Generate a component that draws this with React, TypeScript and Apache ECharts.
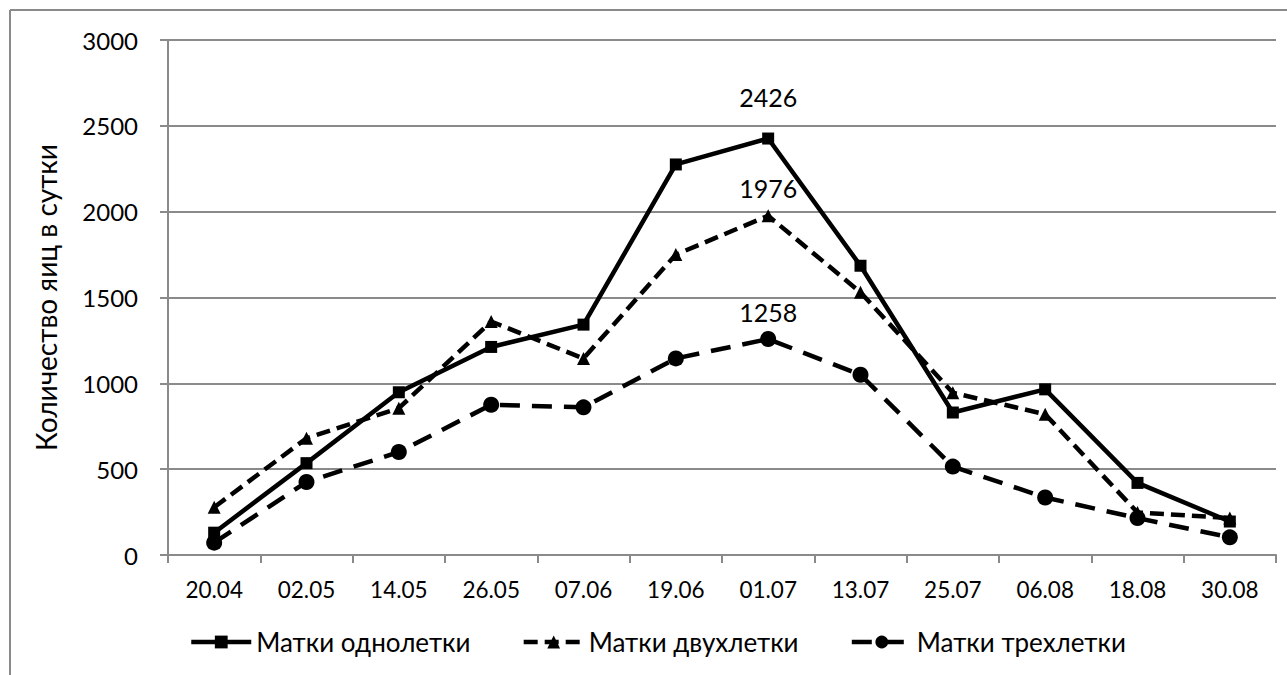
import React, { useEffect, useRef } from "react";
import * as echarts from "echarts";

const categories = ["20.04", "02.05", "14.05", "26.05", "07.06", "19.06", "01.07", "13.07", "25.07", "06.08", "18.08", "30.08"];
const oneYear = [130, 535, 948, 1212, 1342, 2275, 2426, 1685, 830, 965, 420, 195];
const twoYear = [278, 680, 855, 1360, 1145, 1750, 1976, 1530, 945, 820, 248, 215];
const threeYear = [72, 425, 600, 875, 860, 1145, 1258, 1050, 515, 335, 215, 103];
const seriesNames = ["Матки однолетки", "Матки двухлетки", "Матки трехлетки"];
const yTicks = { min: 0, max: 3000, interval: 500 };
const labelIndex = 6;
const yAxisTitle = "Количество яиц в сутки";

const FONT = "Lato, 'Open Sans', sans-serif";

function withLabel(values: number[], distance: number) {
  return values.map((v, i) =>
    i === labelIndex
      ? { value: v, label: { show: true, position: "top", distance, fontSize: 25, color: "#000", fontFamily: FONT } }
      : v
  );
}

export default function App() {
  const ref = useRef<HTMLDivElement>(null);
  useEffect(() => {
    if (!ref.current) return;
    const chart = echarts.init(ref.current, undefined, { renderer: "svg" });
    chart.setOption({
      animation: false,
      backgroundColor: "#fff",
      textStyle: { fontFamily: FONT },
      graphic: [
        { type: "line", shape: { x1: 10, y1: 10, x2: 1287, y2: 10 }, style: { stroke: "#8a8a8a", lineWidth: 2 } },
        { type: "line", shape: { x1: 10, y1: 10, x2: 10, y2: 675 }, style: { stroke: "#8a8a8a", lineWidth: 2 } },
      ],
      grid: { left: 168, right: 11, top: 40, bottom: 120, containLabel: false },
      legend: {
        left: 184,
        top: 624,
        itemWidth: 60,
        itemHeight: 16,
        itemGap: 51,
        lineStyle: { width: 4.5 },
        textStyle: { fontSize: 26, color: "#000", fontFamily: FONT },
        data: seriesNames,
      },
      xAxis: {
        type: "category",
        data: categories,
        boundaryGap: true,
        axisLine: { lineStyle: { color: "#8a8a8a", width: 2 } },
        axisTick: { show: true, length: 8, lineStyle: { color: "#8a8a8a", width: 2 } },
        axisLabel: { fontSize: 22.5, color: "#000", margin: 23, fontFamily: FONT },
      },
      yAxis: {
        type: "value",
        min: yTicks.min,
        max: yTicks.max,
        interval: yTicks.interval,
        name: yAxisTitle,
        nameLocation: "middle",
        nameGap: 108,
        nameTextStyle: { fontSize: 28, color: "#000", fontFamily: FONT, padding: [0, 0, 0, 0] },
        axisLine: { show: true, lineStyle: { color: "#8a8a8a", width: 2 } },
        axisTick: { show: true, length: 8, lineStyle: { color: "#8a8a8a", width: 2 } },
        axisLabel: { fontSize: 24, color: "#000", margin: 30, fontFamily: FONT, formatter: (v: number) => String(v) },
        splitLine: { show: true, lineStyle: { color: "#8a8a8a", width: 2 } },
      },
      series: [
        {
          name: seriesNames[0],
          type: "line",
          data: withLabel(oneYear, 23),
          symbol: "rect",
          symbolSize: 12,
          lineStyle: { color: "#000", width: 4.5, type: "solid" },
          itemStyle: { color: "#000" },
          z: 3,
        },
        {
          name: seriesNames[1],
          type: "line",
          data: withLabel(twoYear, 9),
          symbol: "triangle",
          symbolSize: 13,
          lineStyle: { color: "#000", width: 4.5, type: [14, 7] },
          itemStyle: { color: "#000" },
          z: 2,
        },
        {
          name: seriesNames[2],
          type: "line",
          data: withLabel(threeYear, 7),
          symbol: "circle",
          symbolSize: 16,
          lineStyle: { color: "#000", width: 4.5, type: [20, 12] },
          itemStyle: { color: "#000" },
          z: 1,
        },
      ],
    });
    return () => chart.dispose();
  }, []);
  return <div ref={ref} style={{ position: "fixed", left: 0, top: 0, width: 1287, height: 675 }} />;
}
